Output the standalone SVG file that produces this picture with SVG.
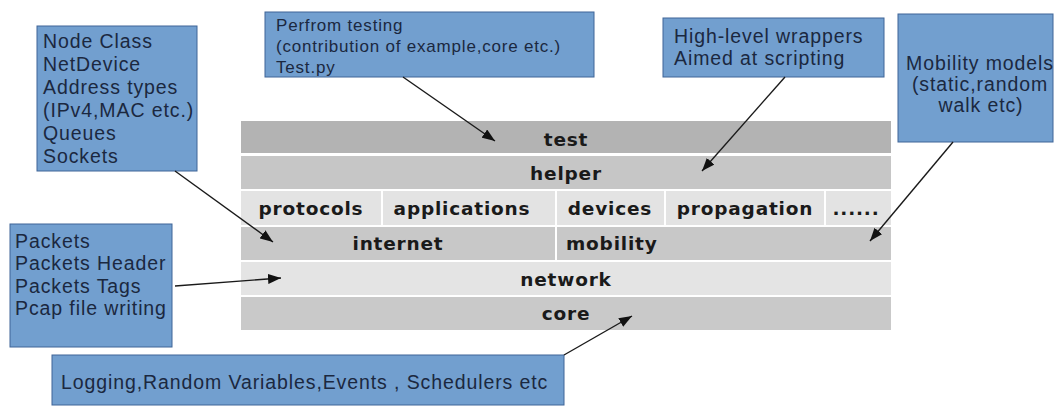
<svg xmlns="http://www.w3.org/2000/svg" width="1055" height="410" viewBox="0 0 1055 410">
  <style>
    .layer { font-family: "DejaVu Sans", sans-serif; font-weight: bold; font-size: 18.5px; letter-spacing: 0.8px; fill: #1a1a1a; }
    .box { fill: #729fcf; stroke: #3f6597; stroke-width: 1; }
    .note { font-family: "Liberation Sans", Arial, sans-serif; font-size: 19.5px; letter-spacing: 0.9px; fill: #1b2840; }
    .note-sm { font-family: "Liberation Sans", Arial, sans-serif; font-size: 17px; letter-spacing: 0.8px; fill: #1b2840; }
    .conn { stroke: #1a1a1a; stroke-width: 1.4; fill: none; marker-end: url(#head); }
  </style>
  <defs>
    <marker id="head" markerUnits="userSpaceOnUse" markerWidth="14" markerHeight="10" refX="13" refY="5" orient="auto">
      <path d="M0,0 L13,5 L0,10 Z" fill="#111"/>
    </marker>
  </defs>

  <rect width="1055" height="410" fill="#ffffff"/>

  <!-- ns-3 module stack -->
  <g id="stack">
    <g id="layer-test">
      <rect x="241" y="121" width="650" height="32" fill="#b3b3b3"/>
      <text class="layer" x="566" y="146" text-anchor="middle">test</text>
    </g>
    <g id="layer-helper">
      <rect x="241" y="156" width="650" height="33" fill="#c6c6c6"/>
      <text class="layer" x="566" y="180" text-anchor="middle">helper</text>
    </g>
    <g id="layer-protocols">
      <rect x="241" y="191" width="140" height="34" fill="#e3e3e3"/>
      <text class="layer" x="311" y="215" text-anchor="middle">protocols</text>
    </g>
    <g id="layer-applications">
      <rect x="383" y="191" width="172" height="34" fill="#e3e3e3"/>
      <text class="layer" x="462" y="215" text-anchor="middle">applications</text>
    </g>
    <g id="layer-devices">
      <rect x="557" y="191" width="107" height="34" fill="#e3e3e3"/>
      <text class="layer" x="610" y="215" text-anchor="middle">devices</text>
    </g>
    <g id="layer-propagation">
      <rect x="666" y="191" width="158" height="34" fill="#e3e3e3"/>
      <text class="layer" x="745" y="215" text-anchor="middle">propagation</text>
    </g>
    <g id="layer-more">
      <rect x="826" y="191" width="65" height="34" fill="#e3e3e3"/>
      <text class="layer" x="856" y="215" text-anchor="middle">......</text>
    </g>
    <g id="layer-internet">
      <rect x="241" y="227" width="314" height="33" fill="#c8c8c8"/>
      <text class="layer" x="398" y="250" text-anchor="middle">internet</text>
    </g>
    <g id="layer-mobility">
      <rect x="557" y="227" width="334" height="33" fill="#c8c8c8"/>
      <text class="layer" x="566" y="250">mobility</text>
    </g>
    <g id="layer-network">
      <rect x="241" y="262" width="650" height="33" fill="#e4e4e4"/>
      <text class="layer" x="566" y="286" text-anchor="middle">network</text>
    </g>
    <g id="layer-core">
      <rect x="241" y="297" width="650" height="33" fill="#c9c9c9"/>
      <text class="layer" x="566" y="320" text-anchor="middle">core</text>
    </g>
  </g>

  <!-- annotation boxes -->
  <g id="note-node">
    <rect class="box" x="37" y="26" width="160" height="145"/>
    <text class="note" x="43" y="48">Node Class</text>
    <text class="note" x="43" y="71">NetDevice</text>
    <text class="note" x="43" y="94">Address types</text>
    <text class="note" x="43" y="117">(IPv4,MAC etc.)</text>
    <text class="note" x="43" y="140">Queues</text>
    <text class="note" x="43" y="163">Sockets</text>
  </g>
  <g id="note-test">
    <rect class="box" x="265" y="12" width="329" height="65"/>
    <text class="note-sm" x="276" y="31">Perfrom testing</text>
    <text class="note-sm" x="276" y="52">(contribution of example,core etc.)</text>
    <text class="note-sm" x="276" y="73">Test.py</text>
  </g>
  <g id="note-helper">
    <rect class="box" x="663" y="18" width="221" height="59"/>
    <text class="note" x="674" y="43">High-level wrappers</text>
    <text class="note" x="674" y="65">Aimed at scripting</text>
  </g>
  <g id="note-mobility">
    <rect class="box" x="898" y="14" width="155" height="128"/>
    <text class="note" x="980" y="70" text-anchor="middle">Mobility models</text>
    <text class="note" x="980" y="91" text-anchor="middle">(static,random</text>
    <text class="note" x="981" y="112" text-anchor="middle">walk etc)</text>
  </g>
  <g id="note-network">
    <rect class="box" x="10" y="224" width="162" height="123"/>
    <text class="note" x="15" y="248">Packets</text>
    <text class="note" x="15" y="270">Packets Header</text>
    <text class="note" x="15" y="293">Packets Tags</text>
    <text class="note" x="15" y="315">Pcap file writing</text>
  </g>
  <g id="note-core">
    <rect class="box" x="52" y="355" width="512" height="50"/>
    <text class="note" x="61" y="389">Logging,Random Variables,Events , Schedulers etc</text>
  </g>

  <!-- connectors -->
  <g id="connectors">
    <line class="conn" x1="175" y1="171" x2="273" y2="242"/>
    <line class="conn" x1="403" y1="77" x2="495" y2="141"/>
    <line class="conn" x1="785" y1="77" x2="702" y2="171"/>
    <line class="conn" x1="953" y1="142" x2="870" y2="241"/>
    <line class="conn" x1="175" y1="286" x2="281" y2="278"/>
    <line class="conn" x1="564" y1="355" x2="632" y2="316"/>
  </g>
</svg>
